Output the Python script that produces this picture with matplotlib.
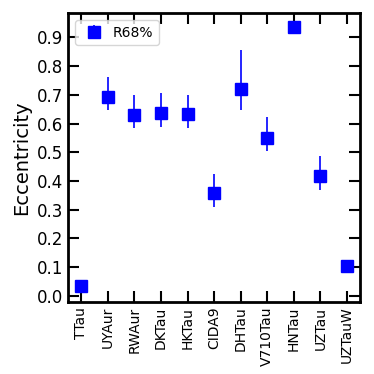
import matplotlib
matplotlib.use("Agg")
import matplotlib.pyplot as plt
import numpy as np

names = ["TTau", "UYAur", "RWAur", "DKTau", "HKTau", "CIDA9", "DHTau",
         "V710Tau", "HNTau", "UZTau", "UZTauW"]
ecc = [0.035, 0.694, 0.631, 0.638, 0.635, 0.359, 0.722, 0.551, 0.938, 0.419, 0.105]
err_hi = [0.0, 0.764, 0.701, 0.708, 0.701, 0.426, 0.858, 0.624, 0.0, 0.488, 0.0]
err_lo = [0.0, 0.649, 0.586, 0.589, 0.586, 0.310, 0.649, 0.506, 0.0, 0.370, 0.0]

ecc_a = np.array(ecc)
hi = np.array(err_hi)
lo = np.array(err_lo)
up = np.where(hi > 0, hi - ecc_a, 0.0)
dn = np.where(lo > 0, ecc_a - lo, 0.0)

fig = plt.figure(figsize=(3.74, 3.74), dpi=100)
ax = fig.add_axes([0.182, 0.193, 0.781, 0.772])
x = np.arange(len(names))
ax.errorbar(x, ecc_a, yerr=[dn, up], fmt="s", color="blue", markersize=8.5,
            elinewidth=1.2, capsize=0, label="R68%")
ax.set_xlim(-0.5, 10.5)
ax.set_ylim(-0.021, 0.985)
ax.set_xticks(x)
ax.set_xticklabels(names, rotation=90, fontsize=10)
ax.set_yticks(np.arange(0, 1.0, 0.1))
ax.set_yticklabels([f"{v:.1f}" for v in np.arange(0, 1.0, 0.1)], fontsize=12)
ax.set_ylabel("Eccentricity", fontsize=14)
ax.tick_params(direction="in", length=8, width=1.5, top=True, right=True)
for s in ax.spines.values():
    s.set_linewidth(2)
ax.legend(loc="upper left", fontsize=10, handletextpad=0.3, borderpad=0.4)
fig.savefig("out.png", dpi=100)
